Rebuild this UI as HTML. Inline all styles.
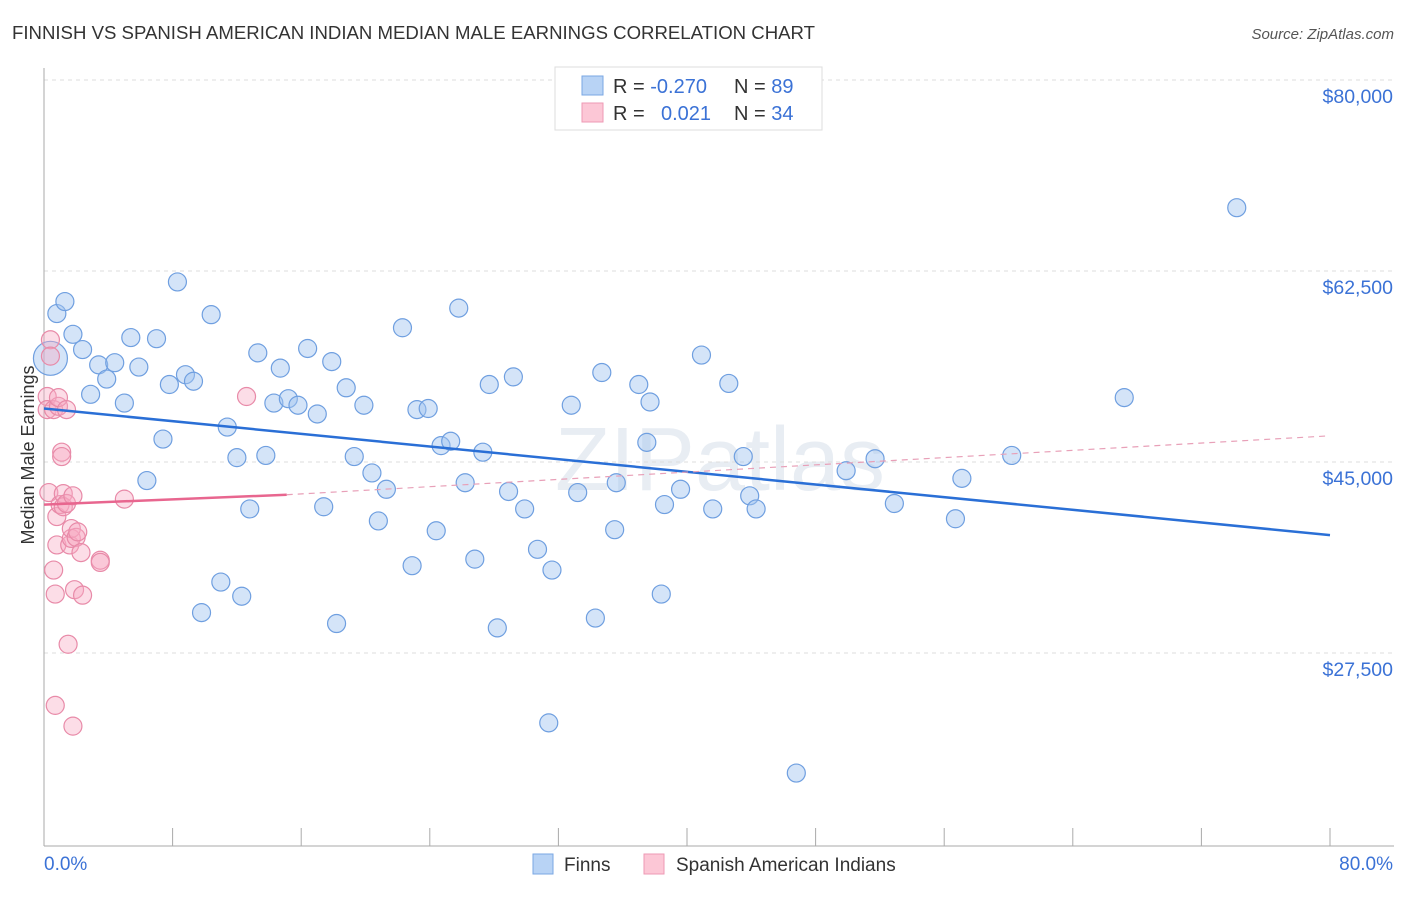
<!DOCTYPE html>
<html><head><meta charset="utf-8"><style>
body{margin:0;background:#fff;font-family:"Liberation Sans",sans-serif;}
svg text{font-family:"Liberation Sans",sans-serif;}
</style></head><body>
<svg id="chart" width="1406" height="892" xmlns="http://www.w3.org/2000/svg">
<text x="12" y="39" font-size="18" fill="#333" textLength="803" lengthAdjust="spacingAndGlyphs">FINNISH VS SPANISH AMERICAN INDIAN MEDIAN MALE EARNINGS CORRELATION CHART</text>
<text x="1394" y="39" font-size="15" fill="#555" font-style="italic" text-anchor="end">Source: ZipAtlas.com</text>
<text x="720" y="490" font-size="90" fill="#e8edf3" text-anchor="middle" font-family="Liberation Serif">ZIPatlas</text>
<g id="grid"></g><g id="axes"></g><g id="marks"></g>
<text transform="translate(34,455) rotate(-90)" font-size="18" fill="#333" text-anchor="middle">Median Male Earnings</text>
<g>
<rect x="555" y="67" width="267" height="63" fill="#fff" stroke="#ddd"/>
<rect x="582" y="76" width="21" height="19" fill="#b8d3f5" stroke="#7aa7e3"/>
<rect x="582" y="103" width="21" height="19" fill="#fcc7d6" stroke="#ee9ab4"/>
<text x="613" y="93" font-size="20" fill="#333">R = <tspan fill="#3b72d6">-0.270</tspan></text>
<text x="734" y="93" font-size="20" fill="#333">N = <tspan fill="#3b72d6">89</tspan></text>
<text x="613" y="120" font-size="20" fill="#333">R = <tspan fill="#3b72d6" x="661">0.021</tspan></text>
<text x="734" y="120" font-size="20" fill="#333">N = <tspan fill="#3b72d6">34</tspan></text>
</g>
<g>
<rect x="533" y="854" width="20" height="20" fill="#b8d3f5" stroke="#7aa7e3"/>
<text x="564" y="871" font-size="19" fill="#333">Finns</text>
<rect x="644" y="854" width="20" height="20" fill="#fcc7d6" stroke="#ee9ab4"/>
<text x="676" y="871" font-size="19" fill="#333">Spanish American Indians</text>
</g>
</svg>
<script>
const yTicks=[27500,45000,62500,80000];
const yTickLabels=["$27,500","$45,000","$62,500","$80,000"];
const xTickLabels=["0.0%","80.0%"];
const finnsX=[0.4,0.8,1.3,1.8,2.4,2.9,3.4,3.9,4.4,5.0,5.4,5.9,6.4,7.0,7.4,7.8,8.3,8.8,9.3,9.8,10.4,11.0,11.4,12.0,12.3,12.8,13.3,13.8,14.3,14.7,15.2,15.8,16.4,17.0,17.4,17.9,18.2,18.8,19.3,19.9,20.4,20.8,21.3,22.3,22.9,23.2,23.9,24.4,24.7,25.3,25.8,26.2,26.8,27.3,27.7,28.2,28.9,29.2,29.9,30.7,31.4,31.6,32.8,33.2,34.3,34.7,35.5,35.6,37.0,37.5,37.7,38.4,38.6,39.6,40.9,41.6,42.6,43.5,43.9,44.3,46.8,49.9,51.7,52.9,56.7,57.1,60.2,67.2,74.2];
const finnsY=[54.5,58.6,59.7,56.7,55.3,51.2,53.9,52.6,54.1,50.4,56.4,53.7,43.3,56.3,47.1,52.1,61.5,53.0,52.4,31.2,58.5,34.0,48.2,45.4,32.7,40.7,55.0,45.6,50.4,53.6,50.8,50.2,55.4,49.4,40.9,54.2,30.2,51.8,45.5,50.2,44.0,39.6,42.5,57.3,35.5,49.8,49.9,38.7,46.5,46.9,59.1,43.1,36.1,45.9,52.1,29.8,42.3,52.8,40.7,37.0,21.1,35.1,50.2,42.2,30.7,53.2,38.8,43.1,52.1,46.8,50.5,32.9,41.1,42.5,54.8,40.7,52.2,45.5,41.9,40.7,16.5,44.2,45.3,41.2,39.8,43.5,45.6,50.9,68.3];
const spanX=[0.2,0.2,0.3,0.4,0.4,0.6,0.6,0.7,0.8,0.8,0.9,0.9,1.0,1.1,1.1,1.2,1.2,1.4,1.4,1.5,1.6,1.7,1.7,1.8,1.8,1.9,2.0,2.1,2.3,2.4,3.5,3.5,5.0,12.6,0.7];
const spanY=[51.0,49.8,42.2,56.2,54.7,49.8,35.1,32.9,40.0,37.4,50.1,50.9,41.1,45.9,45.5,42.1,40.9,41.2,49.8,28.3,37.4,38.0,38.9,41.9,20.8,33.3,38.1,38.6,36.7,32.8,36.0,35.8,41.6,51.0,22.7];
const finnsTrend=[[0,49.9],[80,38.3]];
const spanTrend=[[0,41.1],[15.1,42.0],[80,47.4]];
const X0=44,X1=1330,Y80=80,PXK=191/17.5;
const sx=v=>X0+(v/80)*(X1-X0);
const sy=k=>Y80+(80-k)*PXK;
const NS="http://www.w3.org/2000/svg";
function mk(tag,attrs,parent){const e=document.createElementNS(NS,tag);for(const k in attrs)e.setAttribute(k,attrs[k]);parent.appendChild(e);return e;}
const grid=document.getElementById('grid'),axes=document.getElementById('axes'),marks=document.getElementById('marks');
yTicks.forEach((t,i)=>{
  const y=sy(t/1000);
  const l=mk('line',{x1:X0,x2:1394,y1:y,y2:y,stroke:'#ddd','stroke-dasharray':'4,4'},grid);
  
  
  const tx=mk('text',{x:1393,y:y+23,'font-size':19.5,fill:'#3b72d6','text-anchor':'end'},axes);
  tx.textContent=yTickLabels[i];
  
  
});
const ax=mk('line',{x1:X0,x2:X0,y1:68,y2:846,stroke:'#aaa'},axes);


const bx=mk('line',{x1:X0,x2:1394,y1:846,y2:846,stroke:'#aaa'},axes);


for(let i=0;i<=10;i++){const x=sx(i*8);const t=mk('line',{x1:x,x2:x,y1:828,y2:846,stroke:'#aaa'},axes);

}
const xl0=mk('text',{x:44,y:870,'font-size':19,fill:'#3b72d6'},axes);xl0.textContent=xTickLabels[0];


const xl1=mk('text',{x:1393,y:870,'font-size':19,fill:'#3b72d6','text-anchor':'end'},axes);xl1.textContent=xTickLabels[1];


finnsX.forEach((v,i)=>{
  const c=mk('circle',{cx:sx(v),cy:sy(finnsY[i]),r:i===0?17:9,fill:'rgba(160,196,240,0.45)',stroke:'#6f9fe0','stroke-width':1.2},marks);
  
  
});
spanX.forEach((v,i)=>{
  const c=mk('circle',{cx:sx(v),cy:sy(spanY[i]),r:9,fill:'rgba(247,170,196,0.4)',stroke:'#e88aa8','stroke-width':1.2},marks);
  
  
});
const bl=mk('line',{x1:sx(finnsTrend[0][0]),y1:sy(finnsTrend[0][1]),x2:sx(finnsTrend[1][0]),y2:sy(finnsTrend[1][1]),stroke:'#2a6fd6','stroke-width':2.5},marks);


const pl=mk('line',{x1:sx(spanTrend[0][0]),y1:sy(spanTrend[0][1]),x2:sx(spanTrend[1][0]),y2:sy(spanTrend[1][1]),stroke:'#e8668f','stroke-width':2.5},marks);


const pd=mk('line',{x1:sx(spanTrend[1][0]),y1:sy(spanTrend[1][1]),x2:sx(spanTrend[2][0]),y2:sy(spanTrend[2][1]),stroke:'#e8a0b8','stroke-width':1.2,'stroke-dasharray':'6,5'},marks);


</script>
</body></html>
